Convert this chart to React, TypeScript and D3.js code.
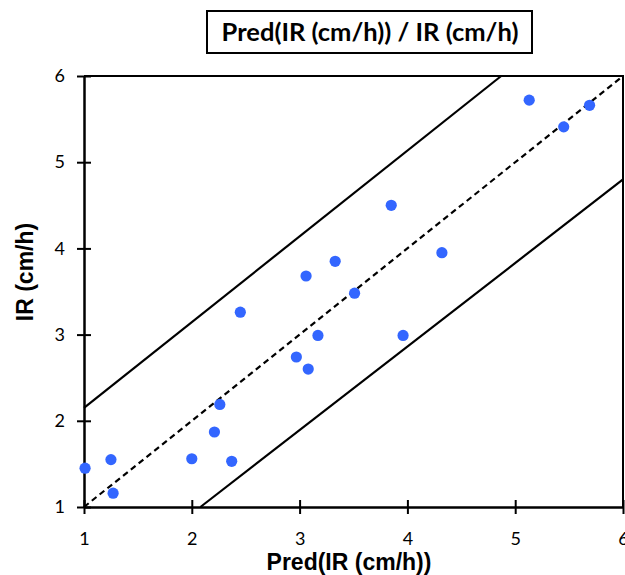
import React, { useRef, useEffect } from 'react';
import * as d3 from 'd3';

// observed vs predicted infiltration rate
const predIR = [1.01, 1.25, 1.27, 2.0, 2.21, 2.26, 2.37, 2.45, 2.97, 3.08, 3.17, 3.06, 3.33, 3.51, 3.85, 4.32, 3.96, 5.13, 5.45, 5.69];
const obsIR = [1.45, 1.55, 1.16, 1.56, 1.87, 2.19, 1.53, 3.26, 2.74, 2.6, 2.99, 3.68, 3.85, 3.48, 4.5, 3.95, 2.99, 5.72, 5.41, 5.66];

// 1:1 line and the two bounding lines
const oneToOne = [[1, 1], [6, 6]];
const upperBound = [[1, 2.15], [4.87, 6]];
const lowerBound = [[2.08, 1], [6, 4.8]];

const xTicks = [1, 2, 3, 4, 5, 6];
const yTicks = [1, 2, 3, 4, 5, 6];

const titleText = 'Pred(IR (cm/h)) / IR (cm/h)';
const xLabel = 'Pred(IR (cm/h))';
const yLabel = 'IR (cm/h)';

const App = () => {
  const svgRef = useRef<SVGSVGElement>(null);

  useEffect(() => {
    const width = 625;
    const height = 575;
    const marginLeft = 84;
    const marginRight = 2;
    const marginTop = 76;
    const marginBottom = 68;

    const svg = d3.select(svgRef.current)
      .attr('width', width)
      .attr('height', height);

    svg.selectAll('*').remove();

    const x = d3.scaleLinear().domain([1, 6]).range([marginLeft, width - marginRight]);
    const y = d3.scaleLinear().domain([1, 6]).range([height - marginBottom, marginTop]);

    // plot frame (top / right)
    svg.append('path')
      .attr('d', `M${x(1)},${y(6)}H${x(6)}V${y(1)}`)
      .attr('fill', 'none')
      .attr('stroke', '#000')
      .attr('stroke-width', 2);

    const line = d3.line<number[]>()
      .x(d => x(d[0]))
      .y(d => y(d[1]));

    svg.append('path')
      .datum(oneToOne)
      .attr('d', line)
      .attr('fill', 'none')
      .attr('stroke', '#000')
      .attr('stroke-width', 2.2)
      .attr('stroke-dasharray', '6,4');

    [upperBound, lowerBound].forEach(b => {
      svg.append('path')
        .datum(b)
        .attr('d', line)
        .attr('fill', 'none')
        .attr('stroke', '#000')
        .attr('stroke-width', 2.2);
    });

    // axes
    const xAxis = svg.append('g')
      .attr('transform', `translate(0,${y(1)})`)
      .call(d3.axisBottom(x).tickValues(xTicks).tickSize(0).tickPadding(25).tickFormat(d3.format('d')));
    const yAxis = svg.append('g')
      .attr('transform', `translate(${x(1)},0)`)
      .call(d3.axisLeft(y).tickValues(yTicks).tickSize(0).tickPadding(19).tickFormat(d3.format('d')));

    [xAxis, yAxis].forEach(g => {
      g.select('.domain').attr('stroke', '#000').attr('stroke-width', 2.5);
      g.selectAll('text')
        .attr('font-family', 'Lato, sans-serif')
        .attr('font-size', 18)
        .attr('fill', '#000');
    });

    // ticks cross the axis lines
    xAxis.selectAll('.tick').append('line')
      .attr('y1', -7).attr('y2', 7)
      .attr('stroke', '#000').attr('stroke-width', 2);
    yAxis.selectAll('.tick').append('line')
      .attr('x1', -7).attr('x2', 7)
      .attr('stroke', '#000').attr('stroke-width', 2);

    // points
    svg.append('g')
      .selectAll('circle')
      .data(predIR.map((p, i) => [p, obsIR[i]]))
      .join('circle')
      .attr('cx', d => x(d[0]))
      .attr('cy', d => y(d[1]))
      .attr('r', 5.6)
      .attr('fill', '#3366ff');

    // title box
    svg.append('rect')
      .attr('x', 207)
      .attr('y', 11)
      .attr('width', 325)
      .attr('height', 42)
      .attr('fill', 'none')
      .attr('stroke', '#000')
      .attr('stroke-width', 2);
    svg.append('text')
      .attr('x', 370)
      .attr('y', 41)
      .attr('text-anchor', 'middle')
      .attr('font-family', 'Lato, sans-serif')
      .attr('font-weight', 'bold')
      .attr('font-size', 25.5)
      .text(titleText);

    // axis titles
    svg.append('text')
      .attr('x', 349)
      .attr('y', 570)
      .attr('text-anchor', 'middle')
      .attr('font-family', '"Liberation Sans", Arial, sans-serif')
      .attr('font-weight', 'bold')
      .attr('font-size', 23)
      .text(xLabel);

    svg.append('text')
      .attr('transform', `translate(33,272) rotate(-90)`)
      .attr('text-anchor', 'middle')
      .attr('font-family', '"Liberation Sans", Arial, sans-serif')
      .attr('font-weight', 'bold')
      .attr('font-size', 23)
      .text(yLabel);
  }, []);

  return (
    <div style={{ position: 'absolute', left: 0, top: 0 }}>
      <svg ref={svgRef} style={{ display: 'block' }}></svg>
    </div>
  );
};

export default App;
